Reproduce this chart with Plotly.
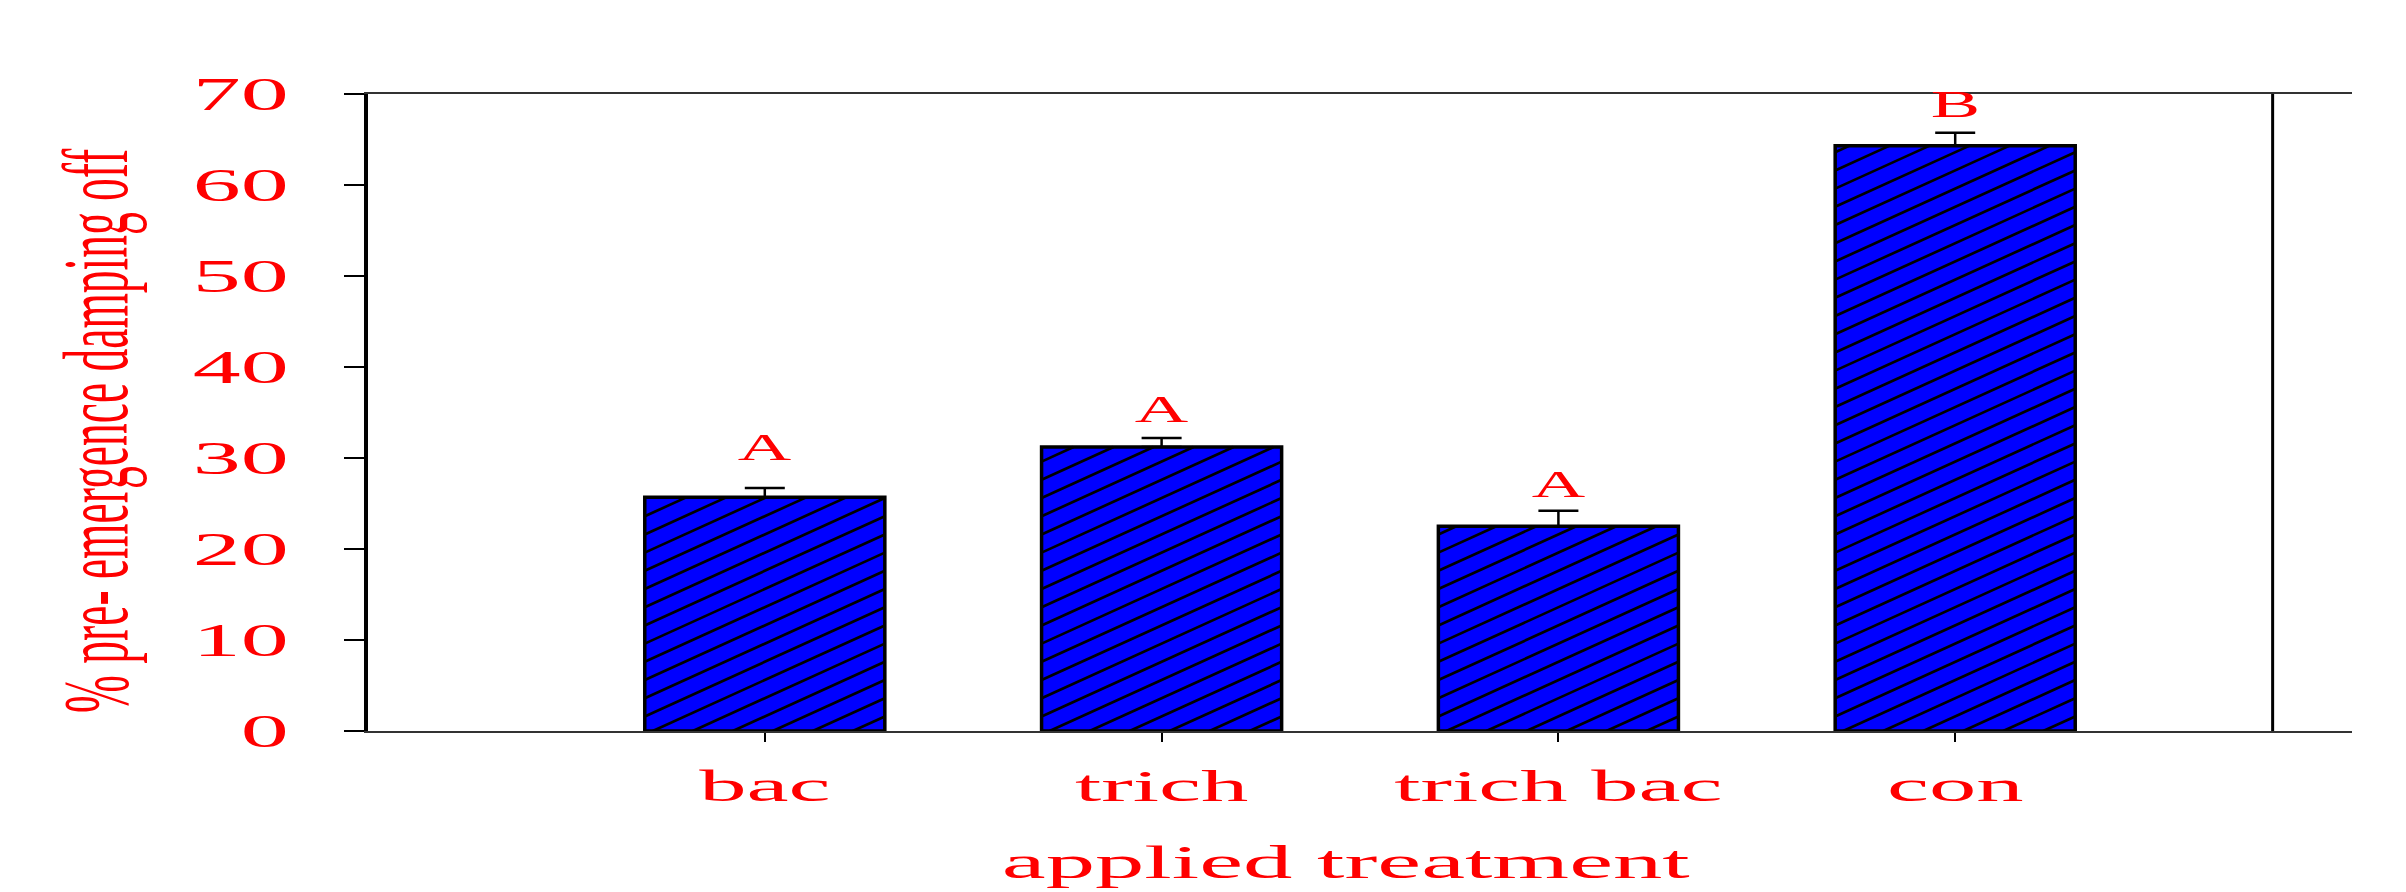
import json
import math

import plotly.graph_objects as go

# ---- data -------------------------------------------------------------
categories = ["bac", "trich", "trich bac", "con"]
damping_off = [25.7, 31.2, 22.5, 64.3]      # % pre-emergence damping off
std_error = [1.0, 1.0, 1.7, 1.45]
group_letters = ["A", "A", "A", "B"]
y_ticks = [0, 10, 20, 30, 40, 50, 60, 70]

# ---- layout constants -------------------------------------------------
W, H = 2406, 892
M_L, M_R, M_T, M_B = 368, 54, 94, 161
X_RANGE = (-1, 4)
Y_RANGE = (0, 70)
BAR_WIDTH = 0.605
FRAME_X = 3.8                      # right-hand frame line
letter_gap = [4.5, 3.1, 2.9, 3.15]  # space between error cap and letter
FONT = "Liberation Serif, Times New Roman, serif"
RED = "#FF0000"

plot_w = W - M_L - M_R
plot_h = H - M_T - M_B
px_x = plot_w / (X_RANGE[1] - X_RANGE[0])
px_y = plot_h / (Y_RANGE[1] - Y_RANGE[0])

# diagonal hatching inside the bars (pixel geometry -> data units)
HATCH_PERIOD = 40.0
HATCH_SLOPE = 0.455
HATCH_OFFSET = 8.0


def hatch_lines(i, value):
    left = (i - BAR_WIDTH / 2 - X_RANGE[0]) * px_x
    right = (i + BAR_WIDTH / 2 - X_RANGE[0]) * px_x
    top = value * px_y
    s = HATCH_SLOPE
    start = left + HATCH_OFFSET
    k_min = math.ceil((left - top / s - start) / HATCH_PERIOD)
    k_max = math.floor((right - start) / HATCH_PERIOD)
    xs, ys = [], []
    for k in range(k_min, k_max + 1):
        x0 = start + k * HATCH_PERIOD
        if x0 >= left:
            xa, ya = x0, 0.0
        else:
            xa, ya = left, s * (left - x0)
        if ya >= top:
            continue
        xt = x0 + top / s
        if xt <= right:
            xb, yb = xt, top
        else:
            xb, yb = right, s * (right - x0)
        xs += [X_RANGE[0] + xa / px_x, X_RANGE[0] + xb / px_x, None]
        ys += [ya / px_y, yb / px_y, None]
    return xs, ys


hx, hy = [], []
for i, v in enumerate(damping_off):
    xs, ys = hatch_lines(i, v)
    hx += xs
    hy += ys

x_pos = list(range(len(categories)))

fig = go.Figure()
fig.add_trace(go.Bar(
    x=x_pos, y=damping_off, width=BAR_WIDTH,
    marker=dict(color="#0000FF", line=dict(color="black", width=3.5)),
    error_y=dict(type="data", array=std_error, arrayminus=[0] * len(std_error),
                 symmetric=False, color="black", thickness=2.5, width=20),
    hoverinfo="skip", showlegend=False,
))
fig.add_trace(go.Scatter(
    x=hx, y=hy, mode="lines", line=dict(color="black", width=2.7),
    hoverinfo="skip", showlegend=False,
))

annotations = []
for i, (v, e, txt) in enumerate(zip(damping_off, std_error, group_letters)):
    annotations.append(dict(
        x=i, y=v + e + letter_gap[i], xref="x", yref="y", text=txt,
        showarrow=False, yanchor="middle", xanchor="center",
        font=dict(family=FONT, size=37, color=RED),
    ))
annotations.append(dict(
    x=(1346 - M_L) / plot_w, y=(M_T + plot_h - 862) / plot_h,
    xref="paper", yref="paper", text="applied treatment", showarrow=False,
    xanchor="center", yanchor="middle",
    font=dict(family=FONT, size=47, color=RED),
))
annotations.append(dict(
    x=(95 - M_L) / plot_w, y=(M_T + plot_h - 431) / plot_h,
    xref="paper", yref="paper", text="% pre- emergence damping off",
    textangle=-90, showarrow=False, xanchor="center", yanchor="middle",
    font=dict(family=FONT, size=45.5, color=RED),
))

fig.update_layout(
    width=W, height=H,
    margin=dict(l=M_L, r=M_R, t=M_T, b=M_B, pad=0),
    paper_bgcolor="white", plot_bgcolor="white",
    annotations=annotations,
    shapes=[dict(type="line", xref="x", yref="y", x0=FRAME_X, x1=FRAME_X,
                 y0=Y_RANGE[0], y1=Y_RANGE[1],
                 line=dict(color="black", width=3))],
    xaxis=dict(
        range=list(X_RANGE), tickvals=x_pos, ticktext=categories,
        showline=True, linecolor="#333333", linewidth=2, mirror=True,
        ticks="outside", ticklen=9, tickwidth=2, tickcolor="black",
        tickfont=dict(family=FONT, size=44, color=RED),
        ticklabelstandoff=6,
        showgrid=False, zeroline=False,
    ),
    yaxis=dict(
        range=list(Y_RANGE), tickvals=y_ticks,
        showline=True, linecolor="black", linewidth=4,
        ticks="outside", ticklen=20, tickwidth=2, tickcolor="black",
        tickfont=dict(family=FONT, size=47, color=RED),
        ticklabelstandoff=46,
        showgrid=False, zeroline=False,
    ),
)

# wide lettering: horizontal texts get widened glyphs along the line,
# the vertical axis title gets its glyphs widened across the line
ann_stretch = [2.0] * len(group_letters) + [2.1, 0]
ann_widen = [0] * len(group_letters) + [0, 2.05]
stretch_js = """
(function(){
  var gd = document.getElementById('{plot_id}');
  var annK = %s, annW = %s;
  function fit(t, k){
    if (!t || !k || t.getAttribute('data-k')) return;
    var w = t.getComputedTextLength();
    if (w > 0) {
      t.setAttribute('textLength', (w * k).toFixed(2));
      t.setAttribute('lengthAdjust', 'spacingAndGlyphs');
      t.setAttribute('data-k', k);
    }
  }
  function widen(t, k){
    if (!t || !k) return;
    var tr = t.getAttribute('transform') || '';
    if (tr.indexOf('scale(') >= 0) return;
    var b = t.getBBox();
    var cx = b.x + b.width / 2, cy = b.y + b.height / 2;
    t.setAttribute('transform', tr + ' translate(' + cx + ',' + cy + ') scale(1,' + k +
                   ') translate(' + (-cx) + ',' + (-cy) + ')');
  }
  function apply(){
    gd.querySelectorAll('.ytick text').forEach(function(t){ fit(t, 2.04); });
    gd.querySelectorAll('.xtick text').forEach(function(t){ fit(t, 2.15); });
    gd.querySelectorAll('.annotation').forEach(function(g){
      var idx = parseInt(g.getAttribute('data-index'));
      var t = g.querySelector('text.annotation-text');
      fit(t, annK[idx]);
      widen(t, annW[idx]);
    });
  }
  apply();
  gd.on('plotly_afterplot', apply);
})();
""" % (json.dumps(ann_stretch), json.dumps(ann_widen))

fig.write_html("out.html", post_script=stretch_js)
